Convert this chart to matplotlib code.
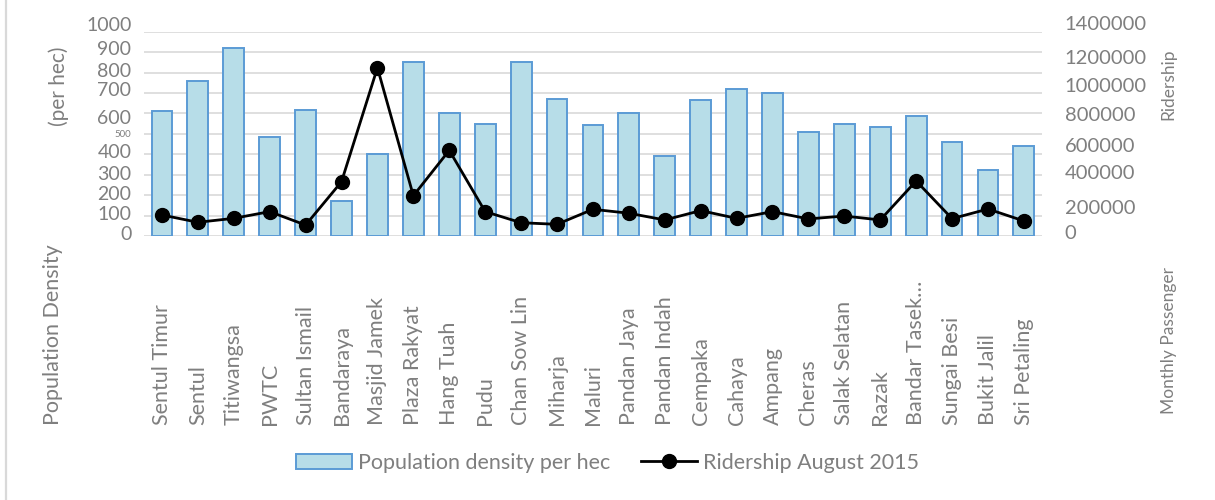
import matplotlib
matplotlib.use("Agg")
import matplotlib.pyplot as plt
import matplotlib.transforms as mtransforms
from matplotlib.lines import Line2D
from matplotlib.patches import Patch
from matplotlib.ticker import FuncFormatter
import numpy as np

plt.rcParams['font.family'] = ['Lato', 'DejaVu Sans']

stations = ["Sentul Timur", "Sentul", "Titiwangsa", "PWTC", "Sultan Ismail",
            "Bandaraya", "Masjid Jamek", "Plaza Rakyat", "Hang Tuah", "Pudu",
            "Chan Sow Lin", "Miharja", "Maluri", "Pandan Jaya", "Pandan Indah",
            "Cempaka", "Cahaya", "Ampang", "Cheras", "Salak Selatan", "Razak",
            "Bandar Tasek…", "Sungai Besi", "Bukit Jalil", "Sri Petaling"]

density = [612, 759, 920, 486, 618, 171, 401, 853, 600, 548, 853, 671, 543,
           602, 393, 667, 720, 701, 509, 548, 534, 587, 460, 323, 442]

ridership = [144000, 94000, 121000, 167000, 75000, 372000, 1153000, 276000,
             587000, 167000, 91000, 80000, 183000, 156000, 110000, 174000,
             121000, 167000, 117000, 137000, 110000, 377000, 119000, 185000,
             103000]

left_ticks = [0, 100, 200, 300, 400, 500, 600, 700, 800, 900, 1000]
right_ticks = [0, 200000, 400000, 600000, 800000, 1000000, 1200000, 1400000]

TEXT = "#7f7f7f"
GRID = "#d9d9d9"
BAR_FILL = "#b7dde8"
BAR_EDGE = "#5b9bd5"

fig = plt.figure(figsize=(12.15, 5.0), dpi=100)
ax = fig.add_axes([0.1185, 0.528, 0.739, 0.4086])
ax2 = ax.twinx()

x = np.arange(len(stations))
ax.bar(x, density, width=0.58, color=BAR_FILL, edgecolor=BAR_EDGE,
       linewidth=1.4, zorder=2)
ax.set_ylim(0, 1000)
ax.set_xlim(-0.5, len(stations) - 0.5)
ax.set_yticks(left_ticks)
ax.yaxis.grid(True, color=GRID, linewidth=1.2, zorder=0)
ax.set_axisbelow(True)
ax.set_xticks([])
for s in ax.spines.values():
    s.set_visible(False)
for s in ax2.spines.values():
    s.set_visible(False)

ax2.plot(x, ridership, color="black", linewidth=2.0, marker="o",
         markersize=10, zorder=3)
ax2.set_ylim(0, 1400000)
ax2.set_yticks(right_ticks)
ax2.yaxis.set_major_formatter(FuncFormatter(lambda v, p: f"{int(v)}"))

ax.tick_params(axis='y', length=0, pad=9, labelsize=14, labelcolor=TEXT)
ax2.tick_params(axis='y', length=0, pad=16.5, labelsize=14.5, labelcolor=TEXT)

# small vertical nudges of the value labels
left_shift = [3, 3, 2, 2, 3, 0, -4, 4, 3, 4, 8]
right_shift = [4, 0, 6, 3, 5, 5, 4, 9]
for lab, dy in zip(ax.get_yticklabels(), left_shift):
    lab.set_transform(lab.get_transform() +
                      mtransforms.ScaledTranslation(0, dy / 100, fig.dpi_scale_trans))
for lab, dy in zip(ax2.get_yticklabels(), right_shift):
    lab.set_transform(lab.get_transform() +
                      mtransforms.ScaledTranslation(0, dy / 100, fig.dpi_scale_trans))
ax.get_yticklabels()[5].set_fontsize(7)

# category names, bottom-aligned below the plot
trans = mtransforms.blended_transform_factory(ax.transData, fig.transFigure)
for xi, name in zip(x, stations):
    ax.text(xi, 0.15, name, transform=trans, rotation=90, ha='center',
            va='bottom', fontsize=15.5, color=TEXT)

# axis titles
fig.text(0.044, 0.33, "Population Density", rotation=90, ha='center',
         va='center', fontsize=15.5, color=TEXT)
fig.text(0.048, 0.828, "(per hec)", rotation=90, ha='center',
         va='center', fontsize=15, color=TEXT)
fig.text(0.962, 0.832, "Ridership", rotation=90, ha='center',
         va='center', fontsize=12.5, color=TEXT)
fig.text(0.962, 0.32, "Monthly Passenger", rotation=90, ha='center',
         va='center', fontsize=12.5, color=TEXT)

handles = [Patch(facecolor=BAR_FILL, edgecolor=BAR_EDGE, linewidth=1.4),
           Line2D([], [], color="black", linewidth=2.0, marker="o", markersize=10)]
leg = fig.legend(handles, ["Population density per hec", "Ridership August 2015"],
                 loc='center', bbox_to_anchor=(0.5, 0.074), ncol=2,
                 frameon=False, fontsize=15.5, handlelength=2.6,
                 handleheight=0.7, columnspacing=1.4, handletextpad=0.3)
for t in leg.get_texts():
    t.set_color(TEXT)

# chart frame edge
fig.add_artist(Line2D([0.0053, 0.0053], [0.0, 1.0], color=GRID,
                      linewidth=1.6, transform=fig.transFigure))

fig.savefig("out.png", dpi=100, facecolor="white")
